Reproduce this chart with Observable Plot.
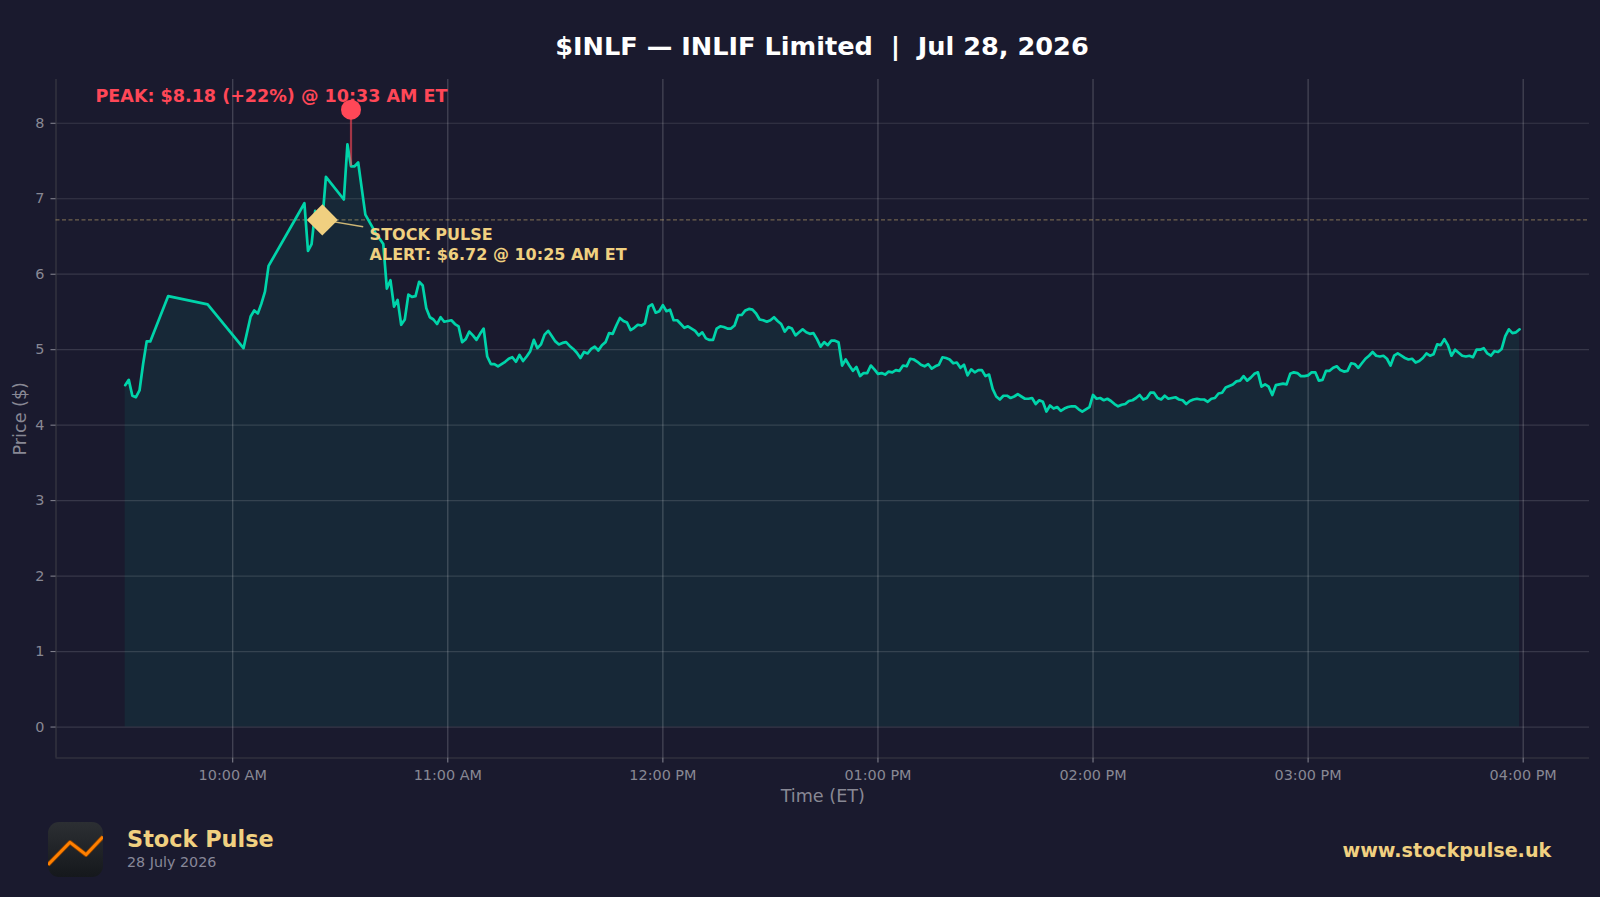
<!DOCTYPE html>
<html>
<head>
<meta charset="utf-8">
<title>$INLF Stock Pulse</title>
<script src="https://cdn.jsdelivr.net/npm/d3@7"></script>
<script src="https://cdn.jsdelivr.net/npm/@observablehq/plot@0.6"></script>
<style>
  html, body { margin: 0; padding: 0; background: #1a1a2e; overflow: hidden; }
  body { position: relative; width: 1600px; height: 897px; font-family: "DejaVu Sans", sans-serif; }
  #header { position: absolute; left: 0; top: 15.5px; width: 1644px; height: 60px; text-align: center; white-space: pre;
            color: #fff; font-weight: 700; font-size: 25.6px; line-height: 60px; }
  #chart { position: absolute; left: 0; top: 60px; }
  #chart svg { display: block; }
  .foot { position: absolute; white-space: pre; line-height: 1; }
  #brand { left: 127px; top: 828px; font-size: 22.4px; font-weight: 700; color: #f0d080; }
  #date { left: 127px; top: 855px; font-size: 14.3px; color: #888899; }
  #site { left: 1342.5px; top: 841px; font-size: 19.15px; font-weight: 700; color: #f0d080; }
  #logo { position: absolute; left: 48px; top: 822px; width: 55px; height: 55px; }
</style>
</head>
<body>
<div id="header">$INLF — INLIF Limited  |  Jul 28, 2026</div>
<div id="chart"></div>
<svg id="logo" viewBox="0 0 55 55">
  <defs>
    <linearGradient id="lg" x1="0" y1="0" x2="0" y2="1"><stop offset="0" stop-color="#2c2f33"/><stop offset="1" stop-color="#15181c"/></linearGradient>
    <clipPath id="lc"><rect width="55" height="55" rx="11"/></clipPath>
  </defs>
  <g clip-path="url(#lc)">
    <rect width="55" height="55" fill="url(#lg)"/>
    <polyline points="0,42.7 22,20.3 38,32.7 55,14.7" fill="none" stroke="#8a4200" stroke-width="4.4" stroke-linejoin="round"/>
    <polyline points="0,42.7 22,20.3 38,32.7 55,14.7" fill="none" stroke="#ff8000" stroke-width="2.8" stroke-linejoin="round"/>
  </g>
</svg>
<div class="foot" id="brand">Stock Pulse</div>
<div class="foot" id="date">28 July 2026</div>
<div class="foot" id="site">www.stockpulse.uk</div>
<script>
// Minutes after the 9:30 AM open, and the price at each of them
const minutes = [0,1,2,3,4,5,6,7,12,23,33,35,36,37,38,39,40,50,51,52,53,54,55,56,61,62,63,64,65,67,69,70,71,72,73,74,75,76,77,78,79,80,81,82,83,84,85,86,87,88,89,90,91,92,93,94,95,96,97,98,99,100,101,102,103,104,
105,106,107,108,109,110,111,112,113,114,115,116,117,118,119,120,121,122,123,124,125,126,127,128,129,130,131,132,133,134,135,136,137,138,139,140,141,142,143,144,145,146,147,148,149,150,151,152,153,154,155,156,157,158,159,160,161,162,163,164,165,166,167,168,169,170,171,172,173,174,175,176,177,178,179,180,181,182,183,184,185,186,187,188,189,190,191,192,193,194,195,196,197,198,199,200,201,202,203,204,205,206,207,208,209,210,
211,212,213,214,215,216,217,218,219,220,221,222,223,224,225,226,227,228,229,230,231,232,233,234,235,236,237,238,239,240,241,242,243,244,245,246,247,248,249,250,251,252,253,254,255,256,257,258,259,260,261,262,263,264,265,266,267,268,269,270,271,272,273,274,275,276,277,278,279,280,281,282,283,284,285,286,287,288,289,290,291,292,293,294,295,296,297,298,299,300,301,302,303,304,305,306,307,308,309,310,
311,312,313,314,315,316,317,318,319,320,321,322,323,324,325,326,327,328,329,330,331,332,333,334,335,336,337,338,339,340,341,342,343,344,345,346,347,348,349,350,351,352,353,354,355,356,357,358,359,360,361,362,363,364,365,366,367,368,369,370,371,372,373,374,375,376,377,378,379,380,381,382,383,384,385,386,387,388,389];
const prices = [4.53,4.60,4.39,4.37,4.46,4.81,5.11,5.11,5.71,5.60,5.02,5.44,5.52,5.48,5.61,5.77,6.11,6.94,6.31,6.40,6.84,6.70,6.72,7.29,6.99,7.72,7.43,7.43,7.48,6.79,6.62,6.53,6.47,6.40,5.81,5.92,5.57,5.66,5.33,5.40,5.73,5.70,5.71,5.90,5.85,5.55,5.43,5.40,5.34,5.43,5.37,5.38,5.39,5.34,5.31,5.10,5.14,5.24,5.19,5.13,5.21,5.28,4.91,4.81,4.81,4.78,
4.81,4.84,4.88,4.90,4.84,4.93,4.85,4.91,4.98,5.13,5.02,5.07,5.20,5.25,5.18,5.11,5.07,5.09,5.10,5.05,5.01,4.96,4.89,4.97,4.95,5.01,5.04,4.99,5.06,5.10,5.22,5.21,5.32,5.42,5.38,5.36,5.26,5.29,5.33,5.32,5.35,5.57,5.60,5.49,5.51,5.59,5.51,5.53,5.39,5.39,5.34,5.29,5.31,5.28,5.25,5.19,5.23,5.15,5.13,5.13,5.28,5.31,5.30,5.28,5.28,5.32,5.46,5.46,5.52,5.54,5.53,5.48,5.40,5.39,5.37,5.39,5.43,5.38,5.34,5.24,5.30,5.28,5.19,5.23,5.27,5.23,5.21,5.22,5.14,5.04,5.10,5.06,5.12,5.12,5.10,4.79,4.87,4.79,4.72,4.77,4.65,4.69,4.69,4.79,4.74,4.68,
4.69,4.67,4.71,4.70,4.73,4.72,4.79,4.78,4.88,4.87,4.84,4.80,4.78,4.81,4.75,4.78,4.80,4.90,4.89,4.87,4.82,4.83,4.76,4.80,4.66,4.74,4.70,4.73,4.73,4.65,4.67,4.48,4.38,4.34,4.39,4.39,4.36,4.38,4.41,4.38,4.35,4.35,4.36,4.28,4.33,4.31,4.18,4.26,4.22,4.24,4.19,4.22,4.24,4.25,4.25,4.21,4.18,4.21,4.24,4.40,4.35,4.36,4.33,4.35,4.32,4.28,4.25,4.27,4.28,4.32,4.33,4.36,4.40,4.34,4.36,4.43,4.43,4.36,4.34,4.39,4.35,4.36,4.37,4.34,4.33,4.28,4.32,4.34,4.35,4.34,4.34,4.31,4.35,4.36,4.42,4.43,4.50,4.52,4.54,4.58,
4.59,4.65,4.59,4.63,4.68,4.70,4.51,4.54,4.51,4.40,4.53,4.54,4.55,4.54,4.68,4.70,4.69,4.65,4.65,4.66,4.70,4.70,4.59,4.60,4.72,4.72,4.76,4.78,4.73,4.71,4.72,4.82,4.81,4.76,4.82,4.88,4.92,4.97,4.92,4.91,4.92,4.88,4.79,4.92,4.95,4.92,4.89,4.87,4.88,4.83,4.85,4.89,4.95,4.92,4.94,5.07,5.06,5.14,5.06,4.92,5.00,4.96,4.92,4.91,4.92,4.90,5.00,5.00,5.02,4.95,4.92,4.98,4.97,5.01,5.18,5.27,5.22,5.23,5.27];

const hourTicks = [10, 11, 12, 13, 14, 15, 16];
const priceTicks = [0, 1, 2, 3, 4, 5, 6, 7, 8];
const xLimits = [9 + 10.7 / 60, 16 + 18.5 / 60];
const yLimits = [-0.41, 8.58];

const alertMinute = 55, alertPrice = 6.72, alertLabelMinute = 66.4, alertLabelPrice = 6.63;
const peakMinute = 63, peakPrice = 8.18, peakBasePrice = 7.43;
const peakText = "PEAK: $8.18 (+22%) @ 10:33 AM ET";
const alertText = "STOCK PULSE\nALERT: $6.72 @ 10:25 AM ET";

const teal = "#00d4aa", gold = "#f0d080", red = "#ff4757", muted = "#888894";

const dayStart = Date.UTC(2026, 6, 28);
const at = (h) => new Date(dayStart + h * 3600000);
const atMinute = (m) => at(9.5 + m / 60);
const rows = minutes.map((m, i) => ({ time: atMinute(m), price: prices[i] }));
const hours = hourTicks.map((h) => at(h));

const chart = Plot.plot({
  width: 1600,
  height: 755,
  marginTop: 19,
  marginBottom: 57.5,
  marginLeft: 55.5,
  marginRight: 11,
  style: { background: "transparent", fontFamily: "DejaVu Sans, sans-serif", color: muted },
  x: { type: "utc", domain: xLimits.map(at), label: null },
  y: { domain: yLimits, label: null },
  marks: [
    Plot.areaY(rows, { x: "time", y: "price", y1: 0, fill: teal, fillOpacity: 0.08 }),
    Plot.ruleX(hours, { stroke: "#ffffff", strokeOpacity: 0.2, strokeWidth: 1.2 }),
    Plot.ruleY(priceTicks, { stroke: "#ffffff", strokeOpacity: 0.13, strokeWidth: 1.2 }),
    Plot.ruleX([at(xLimits[0])], { stroke: "#3a3a44", strokeWidth: 1.2 }),
    Plot.ruleY([yLimits[0]], { stroke: "#3a3a44", strokeWidth: 1.2 }),
    Plot.axisX({ ticks: hours, tickFormat: d3.utcFormat("%I:%M %p"), label: null, tickSize: 5, tickPadding: 7, fontSize: 14.4, color: muted }),
    Plot.axisY({ ticks: priceTicks, tickFormat: "d", label: null, tickSize: 5, tickPadding: 6.5, fontSize: 14.4, color: muted }),
    Plot.text(["Time (ET)"], { frameAnchor: "bottom", dy: 44, fontSize: 17.6, fill: muted, lineAnchor: "bottom" }),
    Plot.text(["Price ($)"], { frameAnchor: "left", textAnchor: "middle", dx: -36, rotate: -90, fontSize: 17.6, fill: muted }),
    Plot.ruleY([alertPrice], { stroke: gold, strokeOpacity: 0.4, strokeWidth: 1.2, strokeDasharray: "4,2.5" }),
    Plot.lineY(rows, { x: "time", y: "price", stroke: teal, strokeWidth: 2.7, curve: "linear" }),
    Plot.ruleX([atMinute(peakMinute)], { y1: peakBasePrice, y2: peakPrice, stroke: red, strokeOpacity: 0.6, strokeWidth: 2.2 }),
    Plot.dot([[atMinute(peakMinute), peakPrice]], { x: "0", y: "1", r: 10, fill: red }),
    Plot.link([0], { x1: () => atMinute(alertMinute), y1: () => alertPrice, x2: () => atMinute(alertLabelMinute), y2: () => alertLabelPrice, stroke: gold, strokeOpacity: 0.85, strokeWidth: 1.5 }),
    Plot.dot([[atMinute(alertMinute), alertPrice]], { x: "0", y: "1", r: 14, symbol: "diamond2", fill: gold }),
    Plot.text([peakText], { x: () => atMinute(peakMinute), y: () => peakPrice, text: (d) => d, dx: 96.5, dy: -13.5, textAnchor: "end", fontSize: 17.55, fontWeight: 700, fill: red }),
    Plot.text([alertText], { x: () => atMinute(alertLabelMinute), y: () => alertLabelPrice, text: (d) => d, dx: 6.4, dy: 17, textAnchor: "start", lineAnchor: "middle", lineHeight: 1.22, fontSize: 16, fontWeight: 700, fill: gold })
  ]
});
document.getElementById("chart").appendChild(chart);
</script>
</body>
</html>
